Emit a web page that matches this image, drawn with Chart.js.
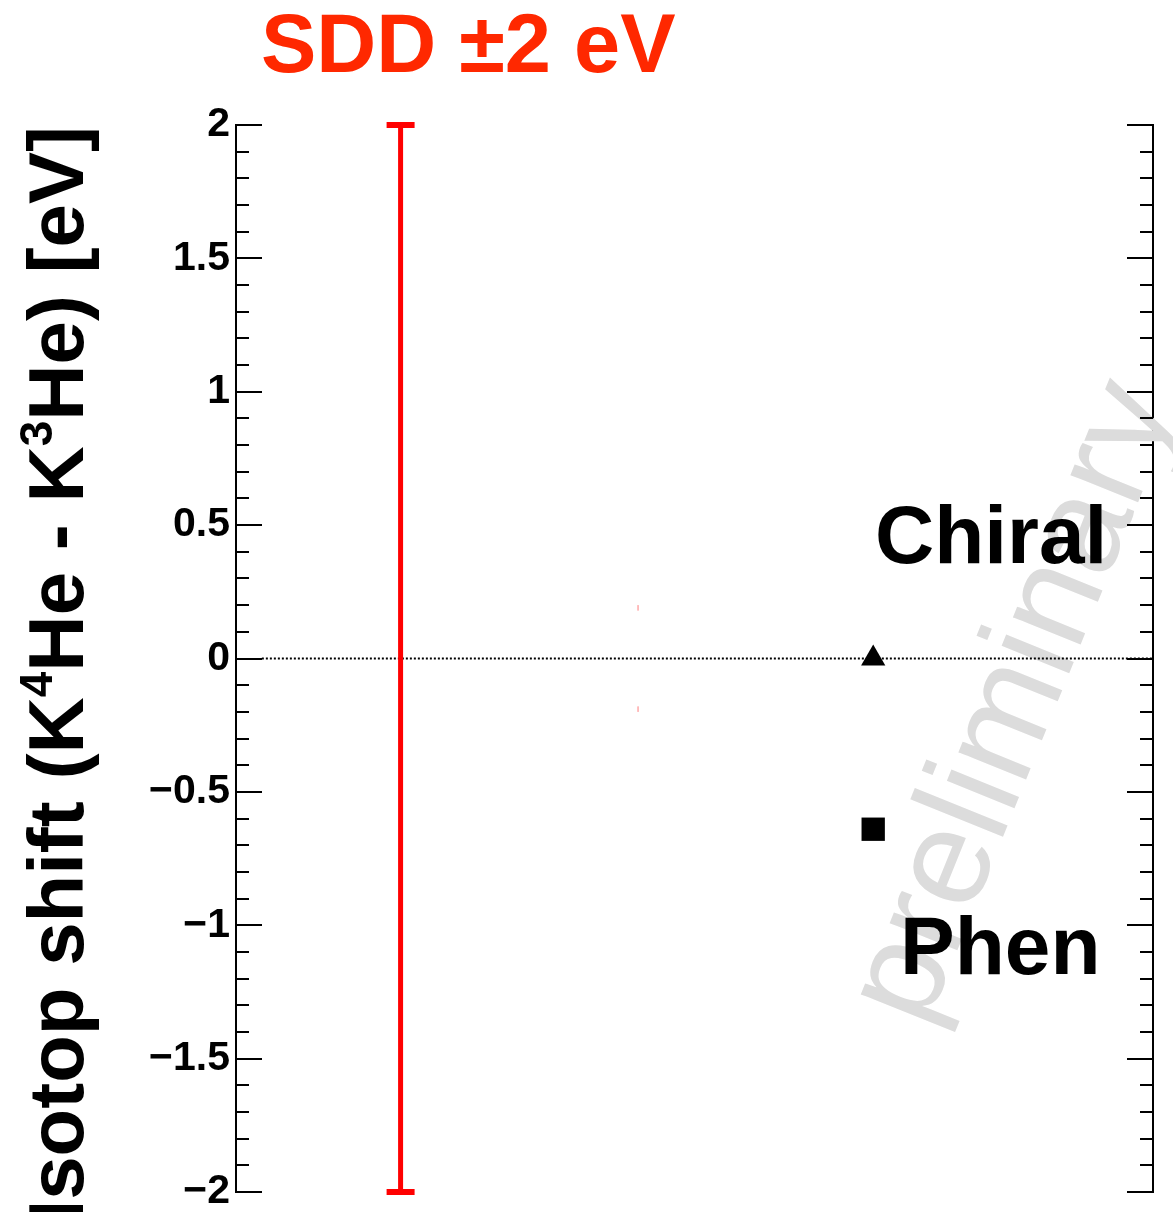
<!DOCTYPE html>
<html>
<head>
<meta charset="utf-8">
<script src="https://cdn.jsdelivr.net/npm/chart.js"></script>
<style>
  html, body { margin: 0; padding: 0; background: #fff; }
</style>
</head>
<body>
<canvas id="isoChart" width="1173" height="1212"></canvas>
<script>
// y axis (isotope shift, eV)
const yTickValues = [-2, -1.5, -1, -0.5, 0, 0.5, 1, 1.5, 2];
const yMin = -2, yMax = 2;
const minorStep = 0.1;

// SDD resolution, +-2 eV
const sddX = [1, 1];
const sddY = [-2, 2];

// faint red marks near +-0.2 eV
const faintX = [2.01, 2.01, 2.01, 2.01, 2.01];
const faintY = [0.2, 0.18, null, -0.18, -0.2];

// theory predictions
const modelNames = ['Chiral', 'Phen'];
const modelX = [3.01, 3.01];
const modelY = [0, -0.64];
const modelStyle = ['triangle', 'rect'];

// dotted zero line
const zeroX = [0.41, 4.2];
const zeroY = [0, 0];

const FONT = '"Liberation Sans", Arial, Helvetica, sans-serif';

function pts(xs, ys) {
  return xs.map((x, i) => ({ x: x, y: ys[i] }));
}

function fmt(v) {
  let s = String(v);
  return v < 0 ? '\u2212' + s.slice(1) : s;
}

function noPad(s, w) {
  s.width = w;
  s.paddingTop = 0;
  s.paddingBottom = 0;
  s.paddingLeft = 0;
  s.paddingRight = 0;
}

const decor = {
  id: 'decor',
  beforeDatasetsDraw(chart) {
    const c = chart.ctx;
    // watermark
    c.save();
    c.translate(1016, 703);
    c.rotate(-68 * Math.PI / 180);
    c.font = '138px ' + FONT;
    c.fillStyle = '#dcdcdc';
    c.textAlign = 'center';
    c.textBaseline = 'middle';
    c.fillText('preliminary', 0, 0);
    c.restore();
  },
  afterDatasetsDraw(chart) {
    const c = chart.ctx;
    const a = chart.chartArea;
    const ys = chart.scales.y;

    // inward tick marks on both sides
    c.save();
    c.strokeStyle = '#000';
    c.lineWidth = 2;
    c.beginPath();
    const n = Math.round((yMax - yMin) / minorStep);
    for (let i = 0; i <= n; i++) {
      const v = yMin + i * minorStep;
      const py = Math.round(ys.getPixelForValue(v));
      const len = i % 5 === 0 ? 26 : 13;
      c.moveTo(a.left, py);
      c.lineTo(a.left + len, py);
      c.moveTo(a.right, py);
      c.lineTo(a.right - len, py);
    }
    c.stroke();

    // title
    c.font = 'bold 83px ' + FONT;
    c.fillStyle = '#ff2800';
    c.textAlign = 'left';
    c.textBaseline = 'alphabetic';
    c.fillText('SDD \u00b12 eV', 261, 72);

    // model labels
    c.font = 'bold 82px ' + FONT;
    c.fillStyle = '#000';
    c.fillText(modelNames[0], 875, 563);
    c.fillText(modelNames[1], 900, 974);

    // y axis title with superscripts
    const big = 'bold 78px ' + FONT;
    const small = 'bold 46px ' + FONT;
    const parts = [
      ['Isotop shift (K', big, 0],
      ['4', small, -31],
      ['He - K', big, 0],
      ['3', small, -31],
      ['He) [eV]', big, 0]
    ];
    let w = 0;
    parts.forEach(p => { c.font = p[1]; w += c.measureText(p[0]).width; });
    c.translate(83, 126 + w);
    c.rotate(-Math.PI / 2);
    let x = 0;
    parts.forEach(p => {
      c.font = p[1];
      c.fillText(p[0], x, p[2]);
      x += c.measureText(p[0]).width;
    });
    c.restore();
  }
};

new Chart(document.getElementById('isoChart'), {
  type: 'scatter',
  data: {
    datasets: [
      {
        data: pts(modelX, modelY),
        pointStyle: modelStyle,
        pointRadius: [14, 16.5],
        backgroundColor: '#000',
        borderColor: '#000',
        borderWidth: 0,
        order: 0
      },
      {
        data: pts(sddX, sddY),
        showLine: true,
        borderColor: '#ff0000',
        borderWidth: 5,
        pointStyle: 'line',
        pointRadius: 14,
        pointBorderWidth: 6,
        pointBorderColor: '#ff0000',
        clip: false,
        order: 1
      },
      {
        data: pts(faintX, faintY),
        showLine: true,
        spanGaps: false,
        borderColor: '#ffb4b4',
        borderWidth: 1,
        pointRadius: 0,
        order: 2
      },
      {
        data: pts(zeroX, zeroY),
        showLine: true,
        borderColor: '#000',
        borderWidth: 2,
        borderDash: [2, 2],
        pointRadius: 0,
        order: 3
      }
    ]
  },
  options: {
    responsive: false,
    devicePixelRatio: 1,
    animation: false,
    layout: { padding: { top: 125, bottom: 17, left: 0, right: 0 } },
    plugins: { legend: { display: false }, tooltip: { enabled: false } },
    scales: {
      x: { type: 'linear', min: 0.3, max: 4.2, display: false },
      y: {
        type: 'linear',
        position: 'left',
        min: yMin,
        max: yMax,
        afterBuildTicks: s => { s.ticks = yTickValues.map(v => ({ value: v })); },
        afterFit: s => noPad(s, 236),
        ticks: {
          callback: v => fmt(v),
          color: '#000',
          padding: 6,
          font: { family: FONT, weight: 'bold', size: 41, lineHeight: 0.8 }
        },
        grid: { display: false, drawTicks: false },
        border: { display: true, color: '#000', width: 2 }
      },
      y2: {
        type: 'linear',
        position: 'right',
        min: yMin,
        max: yMax,
        afterFit: s => noPad(s, 15),
        ticks: { display: false },
        grid: { display: false, drawTicks: false },
        border: { display: true, color: '#000', width: 2 }
      }
    }
  },
  plugins: [decor]
});
</script>
</body>
</html>
